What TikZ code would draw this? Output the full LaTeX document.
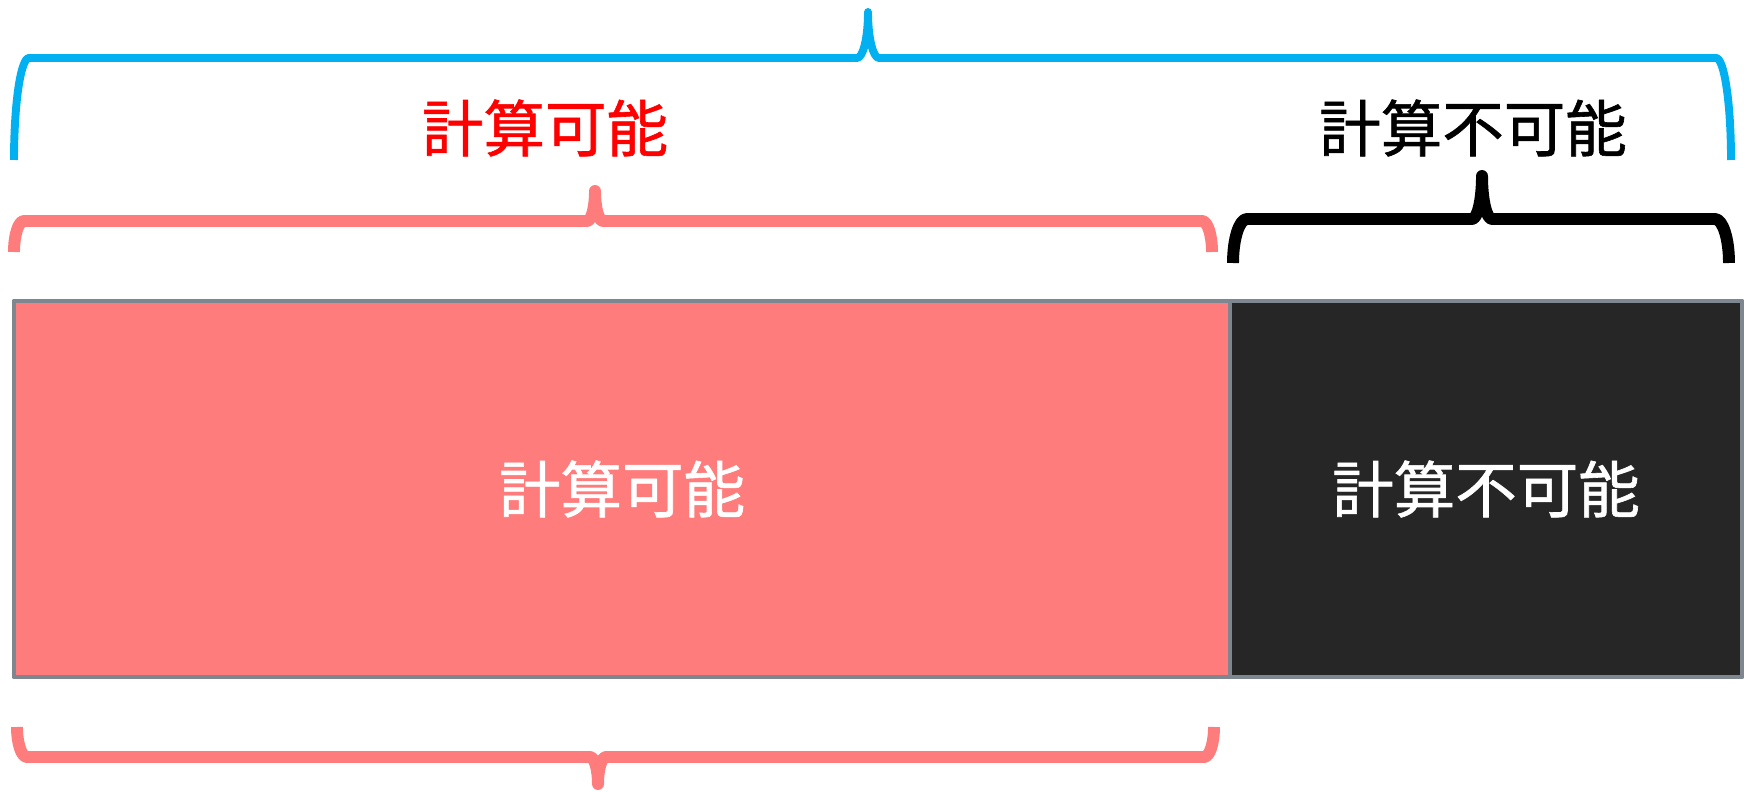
\documentclass[tikz,border=0pt]{standalone}
\usepackage{fontspec}
\newfontfamily\cjk[FakeBold=1]{Noto Sans CJK JP}
\definecolor{bluebr}{HTML}{00B0F0}
\definecolor{pinkc}{HTML}{FF7C7C}
\definecolor{darkc}{HTML}{262626}
\definecolor{borderc}{HTML}{7E8690}
\definecolor{redtxt}{HTML}{FF0000}
\newcommand\hbrace[9]{%
\draw[#1] (#2,#5) .. controls (#2,{#5+0.5523*(#6-#5)}) and ({#2+0.4477*#8},#6) .. ({#2+#8},#6)
 -- ({#4-#9},#6) .. controls ({#4-0.4477*#9},#6) and (#4,{#7+0.5523*(#6-#7)}) .. (#4,#7)
 .. controls (#4,{#7+0.5523*(#6-#7)}) and ({#4+0.4477*#9},#6) .. ({#4+#9},#6)
 -- ({#3-#8},#6) .. controls ({#3-0.4477*#8},#6) and (#3,{#5+0.5523*(#6-#5)}) .. (#3,#5);}
\tikzset{
  brace/.style={line join=round, line width=6.8pt},
  thinbrace/.style={line join=round, line width=4.5pt},
  lbl/.style={font=\cjk\fontsize{35}{40}\selectfont, inner sep=0pt},
  box/.style={draw=borderc, line width=2.8pt, line join=round}
}
\begin{document}
\begin{tikzpicture}[x=0.02cm, y=-0.02cm]
\useasboundingbox (0,0) rectangle (1744,793);
% rectangles
\filldraw[box, fill=pinkc] (14,301) rectangle (1230,677);
\filldraw[box, fill=darkc] (1230,301) rectangle (1742,677);
\node[lbl, text=white] (inA) at (622,489) {計算可能};
\node[lbl, text=white] (inB) at (1486,489) {計算不可能};
% braces
\hbrace{thinbrace, draw=bluebr}{14}{1731}{868}{160}{58}{12}{15}{11}
\hbrace{brace, draw=pinkc}{14}{1212}{595}{252}{221}{191}{10}{8}
\hbrace{brace, draw=black}{1233}{1729}{1482}{263}{219}{176}{14}{10}
\hbrace{brace, draw=pinkc}{17}{1214}{598}{727}{757}{784}{10}{8}
% top labels
\node[lbl, text=redtxt] (topA) at (545,128) {計算可能};
\node[lbl, text=black] (topB) at (1473,128) {計算不可能};
\end{tikzpicture}
\end{document}
